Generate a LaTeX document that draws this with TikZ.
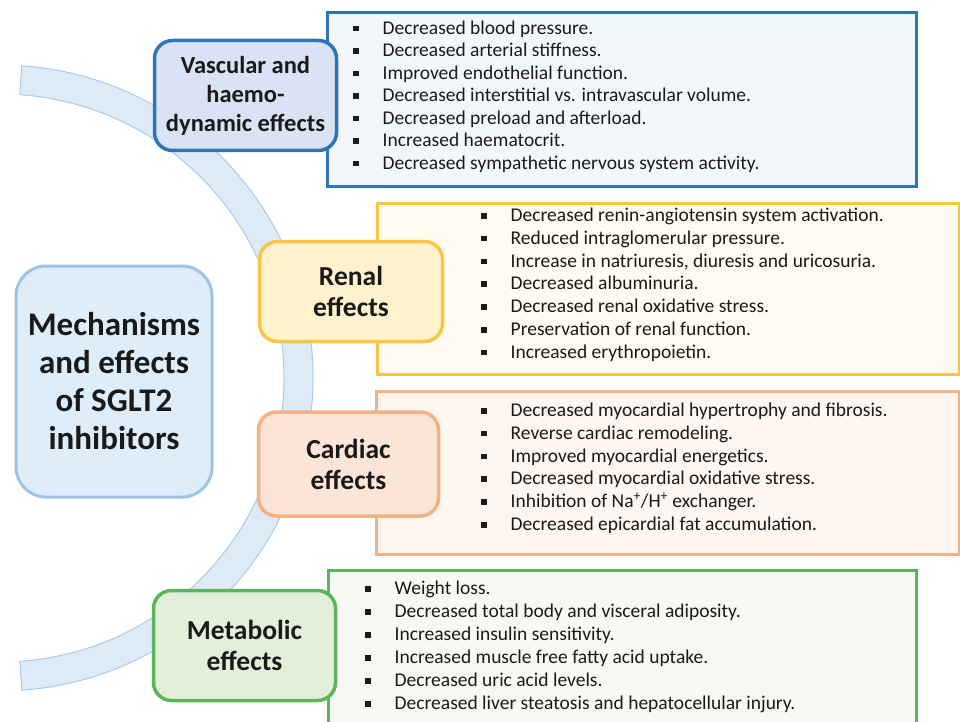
\documentclass[tikz,border=0pt]{standalone}
\usepackage{fontspec}
\setmainfont{Carlito}
\definecolor{sgText}{HTML}{1A1A1A}
\definecolor{sgArc}{HTML}{DEEBF7}
\definecolor{sgArcLine}{HTML}{A9CBEA}
\definecolor{sgMain}{HTML}{DEEDFA}
\definecolor{sgMainLine}{HTML}{9DC3E6}
\definecolor{sgVasc}{HTML}{DAE3F3}
\definecolor{sgVascLine}{HTML}{2E75B6}
\definecolor{sgVascList}{HTML}{F3F7FC}
\definecolor{sgRenal}{HTML}{FFF2CC}
\definecolor{sgRenalLine}{HTML}{F7C646}
\definecolor{sgRenalList}{HTML}{FFFBF0}
\definecolor{sgCard}{HTML}{FBE5D6}
\definecolor{sgCardLine}{HTML}{F4B183}
\definecolor{sgCardList}{HTML}{FDF6F1}
\definecolor{sgMeta}{HTML}{E2F0D9}
\definecolor{sgMetaLine}{HTML}{5BB55B}
\definecolor{sgMetaList}{HTML}{F6FAF3}
\usepackage{tikz}
\usetikzlibrary{calc,positioning}

\newcommand{\sqbullet}{\makebox[29.5pt][l]{\rule[3pt]{5.5pt}{5.5pt}}}

\tikzset{
  labelbox/.style={draw, line width=3.5pt, rounded corners=18pt, align=center, text=sgText,
    inner sep=0pt, font=\fontsize{24.5}{29}\selectfont\bfseries},
  labelbig/.style={labelbox, font=\fontsize{27.5}{31}\selectfont\bfseries},
  listbox/.style={draw, line width=3pt, anchor=north west, inner sep=0pt},
  item/.style={anchor=base west, inner sep=0pt, text=sgText,
    font=\fontsize{19.5}{22.7}\selectfont}
}

\begin{document}
\begin{tikzpicture}[x=1pt, y=1pt]
  \clip (0,0) rectangle (960,-722);

  % Arc
  \coordinate (hub) at (0,-378);
  \filldraw[fill=sgArc, draw=sgArcLine, line width=1pt]
    ([shift={(86:313)}]hub) arc[start angle=86, end angle=-86, radius=313pt]
    -- ([shift={(-86:284)}]hub) arc[start angle=-86, end angle=86, radius=284pt] -- cycle;

  % Main
  \node[draw=sgMainLine, fill=sgMain, line width=3pt, rounded corners=30pt,
    minimum width=196pt, minimum height=231pt, align=center, text=sgText,
    font=\fontsize{33}{38}\selectfont\bfseries] (main) at (114,-381.5)
    {Mechanisms\\and effects\\of SGLT2\\inhibitors};

  % Lists
  \node[listbox, draw=sgVascLine, fill=sgVascList, minimum width=589pt, minimum height=173pt]
    (vascList) at (325.5,-11.5) {};
  \node[listbox, draw=sgRenalLine, fill=sgRenalList, minimum width=582pt, minimum height=171pt]
    (renalList) at (375.5,-201.5) {};
  \node[listbox, draw=sgCardLine, fill=sgCardList, minimum width=583pt, minimum height=163pt]
    (cardList) at (374.5,-389.5) {};
  \node[listbox, draw=sgMetaLine, fill=sgMetaList, minimum width=588pt, minimum height=200pt]
    (metaList) at (326.5,-568.5) {};

  % Vascular
  \node[labelbox, draw=sgVascLine, fill=sgVasc, minimum width=182pt, minimum height=110pt]
    (vasc) at (245.5,-95.5) {Vascular and\\haemo-\\dynamic effects};
  \node[item] (v1) at (353,-34.5) {\sqbullet Decreased blood pressure.};
  \node[item] (v2) at (353,-57) {\sqbullet Decreased arterial stiffness.};
  \node[item] (v3) at (353,-79.5) {\sqbullet Improved endothelial function.};
  \node[item] (v4) at (353,-102) {\sqbullet Decreased interstitial vs. intravascular volume.};
  \node[item] (v5) at (353,-124.5) {\sqbullet Decreased preload and afterload.};
  \node[item] (v6) at (353,-147) {\sqbullet Increased haematocrit.};
  \node[item] (v7) at (353,-169.5) {\sqbullet Decreased sympathetic nervous system activity.};

  % Renal
  \node[labelbig, draw=sgRenalLine, fill=sgRenal, minimum width=183pt, minimum height=100pt]
    (renal) at (351,-291.5) {Renal\\effects};
  \node[item] (r1) at (481,-221.5) {\sqbullet Decreased renin-angiotensin system activation.};
  \node[item] (r2) at (481,-244.3) {\sqbullet Reduced intraglomerular pressure.};
  \node[item] (r3) at (481,-267.1) {\sqbullet Increase in natriuresis, diuresis and uricosuria.};
  \node[item] (r4) at (481,-289.9) {\sqbullet Decreased albuminuria.};
  \node[item] (r5) at (481,-312.7) {\sqbullet Decreased renal oxidative stress.};
  \node[item] (r6) at (481,-335.5) {\sqbullet Preservation of renal function.};
  \node[item] (r7) at (481,-358.3) {\sqbullet Increased erythropoietin.};

  % Cardiac
  \node[labelbig, draw=sgCardLine, fill=sgCard, minimum width=180pt, minimum height=104pt]
    (card) at (348.5,-464) {Cardiac\\effects};
  \node[item] (c1) at (481,-416.5) {\sqbullet Decreased myocardial hypertrophy and fibrosis.};
  \node[item] (c2) at (481,-439.3) {\sqbullet Reverse cardiac remodeling.};
  \node[item] (c3) at (481,-462.1) {\sqbullet Improved myocardial energetics.};
  \node[item] (c4) at (481,-484.9) {\sqbullet Decreased myocardial oxidative stress.};
  \node[item] (c5) at (481,-507.7) {\sqbullet Inhibition of Na\textsuperscript{+}/H\textsuperscript{+} exchanger.};
  \node[item] (c6) at (481,-530.5) {\sqbullet Decreased epicardial fat accumulation.};

  % Metabolic
  \node[labelbig, draw=sgMetaLine, fill=sgMeta, minimum width=182pt, minimum height=110pt]
    (meta) at (244.5,-645.5) {Metabolic\\effects};
  \node[item] (m1) at (365,-594.5) {\sqbullet Weight loss.};
  \node[item] (m2) at (365,-617.5) {\sqbullet Decreased total body and visceral adiposity.};
  \node[item] (m3) at (365,-640.5) {\sqbullet Increased insulin sensitivity.};
  \node[item] (m4) at (365,-663.5) {\sqbullet Increased muscle free fatty acid uptake.};
  \node[item] (m5) at (365,-686.5) {\sqbullet Decreased uric acid levels.};
  \node[item] (m6) at (365,-709.5) {\sqbullet Decreased liver steatosis and hepatocellular injury.};
\end{tikzpicture}
\end{document}
